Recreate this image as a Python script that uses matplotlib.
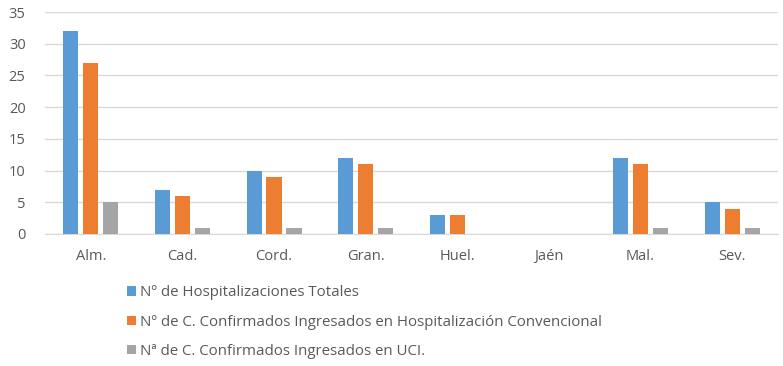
import numpy as np
import matplotlib.pyplot as plt

provincias = ['Alm.', 'Cad.', 'Cord.', 'Gran.', 'Huel.', 'Jaén', 'Mal.', 'Sev.']
hosp_totales = [32, 7, 10, 12, 3, 0, 12, 5]
hosp_convencional = [27, 6, 9, 11, 3, 0, 11, 4]
ingresados_uci = [5, 1, 1, 1, 0, 0, 1, 1]
etiquetas = ['Nº de Hospitalizaciones Totales',
             'Nº de C. Confirmados Ingresados en Hospitalización Convencional',
             'Nª de C. Confirmados Ingresados en UCI.']
colores = ['#5b9bd5', '#ed7d31', '#a5a5a5']

plt.rcParams['font.family'] = ['Open Sans', 'DejaVu Sans']

fig = plt.figure(figsize=(7.83, 3.66), dpi=100)
ax = fig.add_axes([0.0575, 0.361, 0.936, 0.606])

x = np.arange(len(provincias))
w = 0.165
paso = 0.218
series = [hosp_totales, hosp_convencional, ingresados_uci]
for i, (vals, col, lab) in enumerate(zip(series, colores, etiquetas)):
    ax.bar(x + (i - 1) * paso, vals, width=w, color=col, label=lab, zorder=3)

ax.set_xlim(-0.5, len(provincias) - 0.5)
ax.set_ylim(0, 35)
ax.set_yticks(range(0, 36, 5))
ax.set_xticks(x)
ax.set_xticklabels(provincias)
ax.yaxis.grid(True, color='#d9d9d9', linewidth=1, zorder=0)
for s in ['top', 'right', 'left']:
    ax.spines[s].set_visible(False)
ax.spines['bottom'].set_color('#d9d9d9')
ax.tick_params(axis='both', length=0, labelsize=10.5, colors='#595959')
ax.tick_params(axis='x', pad=11)
ax.tick_params(axis='y', pad=14)

fig.legend(loc='upper left', bbox_to_anchor=(0.162, 0.22), ncol=1, frameon=False,
           fontsize=10.8, labelcolor='#595959', handlelength=0.6, handleheight=0.6,
           handletextpad=0.3, labelspacing=0.95, borderaxespad=0, borderpad=0)

fig.savefig('out.png', dpi=100, facecolor='white')
